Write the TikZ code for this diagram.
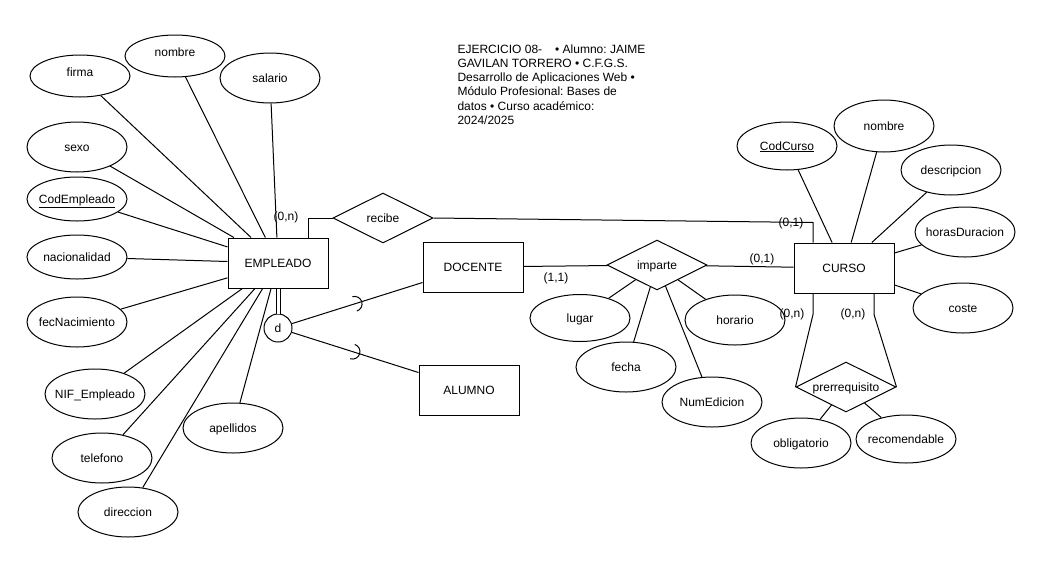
\documentclass[tikz,border=0pt]{standalone}
\usepackage{fontspec}
\setmainfont{Liberation Sans}
\usetikzlibrary{shapes.geometric,calc}
\newcommand\zb[1]{\makebox[0pt]{#1}}
\newcommand\zu[2]{\makebox[0pt]{\raisebox{#1}[0pt][0pt]{#2}}}
\begin{document}
\frenchspacing
\begin{tikzpicture}[x=1pt,y=-1pt,line width=1pt,
  every node/.style={font=\fontsize{12}{14.2}\selectfont\frenchspacing, inner sep=0pt, text height=9pt, text depth=0.7pt},
  attr/.style={draw, ellipse, minimum width=100pt, minimum height=#1},
  attr/.default=50pt,
  ent/.style={draw, rectangle, minimum width=100pt, minimum height=50pt},
  rel/.style={draw, diamond, minimum width=100pt, minimum height=50pt},
  card/.style={}]
\useasboundingbox (0,0) rectangle (1041,563);

% title
\node[anchor=north west, align=left, text height={}, text depth={}] (title) at (457,44)
  {EJERCICIO 08-\hspace{13pt}• Alumno: JAIME\\GAVILAN TORRERO • C.F.G.S.\\Desarrollo de Aplicaciones Web •\\Módulo Profesional: Bases de\\datos • Curso académico:\\2024/2025};

% EMPLEADO and its attributes
\node[ent] (empleado) at (278,263) {\zb{EMPLEADO}};
\node[attr=42pt] (firma) at (80,76) {\zu{4pt}{firma}};
\node[attr=42pt] (nombreE) at (175,56) {\zu{4pt}{nombre}};
\node[attr=50pt] (salario) at (270,78) {\zb{salario}};
\node[attr] (sexo) at (77,147) {\zb{sexo}};
\node[attr=44pt] (codemp) at (77,199) {\zb{\underline{CodEmpleado}}};
\node[attr=44pt] (nac) at (77,257) {\zb{nacionalidad}};
\node[attr] (fecnac) at (77,322) {\zb{fecNacimiento}};
\node[attr] (nif) at (95,394) {\zb{NIF\_Empleado}};
\node[attr] (tel) at (102,458) {\zb{telefono}};
\node[attr] (dir) at (128,512) {\zb{direccion}};
\node[attr] (ape) at (233,428) {\zb{apellidos}};
\foreach \a in {firma,nombreE,salario,sexo,codemp,nac,fecnac,nif,tel,dir,ape}
  \draw (\a) -- (empleado);

% specialization
\node[draw, circle, minimum size=28pt] (d) at (278,328) {\zb{d}};
\node[ent] (docente) at (473,267) {\zb{DOCENTE}};
\node[ent] (alumno) at (469,390) {\zb{ALUMNO}};
\draw[double, double distance=3pt] (empleado) -- (d);
\coordinate (dt) at ([yshift=10pt]docente.south west);
\coordinate (at) at ([yshift=-8pt]alumno.north west);
\draw (d) -- (dt);
\draw (d) -- (at);
\coordinate (s1) at ($(d.center)!0.53!(dt)$);
\coordinate (s2) at ($(d.center)!0.53!(at)$);
\draw (s1) ++(107.6:7.5pt) arc[start angle=107.6, end angle=-72.4, radius=7.5pt];
\draw (s2) ++(72.3:7.5pt) arc[start angle=72.3, end angle=-107.7, radius=7.5pt];

% CURSO and its attributes
\node[ent] (curso) at (844,268) {\zb{CURSO}};
\node[attr=48pt] (codcurso) at (787,146) {\zb{\underline{CodCurso}}};
\node[attr=52pt] (nombreC) at (884,126) {\zb{nombre}};
\node[attr] (desc) at (951,170) {\zb{descripcion}};
\node[attr] (horas) at (965,232) {\zb{horasDuracion}};
\node[attr] (coste) at (963,308) {\zb{coste}};
\foreach \a in {codcurso,nombreC,desc,horas,coste}
  \draw (\a) -- (curso);

% recibe
\node[rel] (recibe) at (383,218) {\zb{recibe}};
\draw ([xshift=30pt]empleado.north) |- (recibe.west);
\coordinate (rc) at ([xshift=-31pt]curso.north);
\draw (recibe.east) -- ([yshift=20pt]rc) -- (rc);
\node[card] (c0n) at (286,216) {(0,n)};
\node[card] (c01a) at (791,222) {(0,1)};

% imparte
\node[rel] (imparte) at (657,265) {\zb{imparte}};
\draw (docente) -- (imparte);
\draw (imparte) -- (curso);
\node[card] (c11) at (556,277) {(1,1)};
\node[card] (c01b) at (762,258) {(0,1)};
\node[attr=47pt] (lugar) at (580,318) {\zb{lugar}};
\node[attr] (fecha) at (626,367) {\zb{fecha}};
\node[attr] (numed) at (712,402) {\zb{NumEdicion}};
\node[attr] (horario) at (735,320) {\zb{horario}};
\foreach \a in {lugar,fecha,numed,horario}
  \draw (\a) -- (imparte);

% prerrequisito
\node[rel] (prer) at (846,387) {\zb{prerrequisito}};
\draw ([xshift=-31pt]curso.south) -- ++(0,21) -- (prer.west);
\draw ([xshift=30pt]curso.south) -- ++(0,21) -- (prer.east);
\node[card] (c0nl) at (792,313) {(0,n)};
\node[card] (c0nr) at (853,313) {(0,n)};
\node[attr] (oblig) at (801,443) {\zb{obligatorio}};
\node[attr=48pt] (recom) at (906,439) {\zb{recomendable}};
\draw (oblig) -- (prer);
\draw (recom) -- (prer);
\end{tikzpicture}
\end{document}
